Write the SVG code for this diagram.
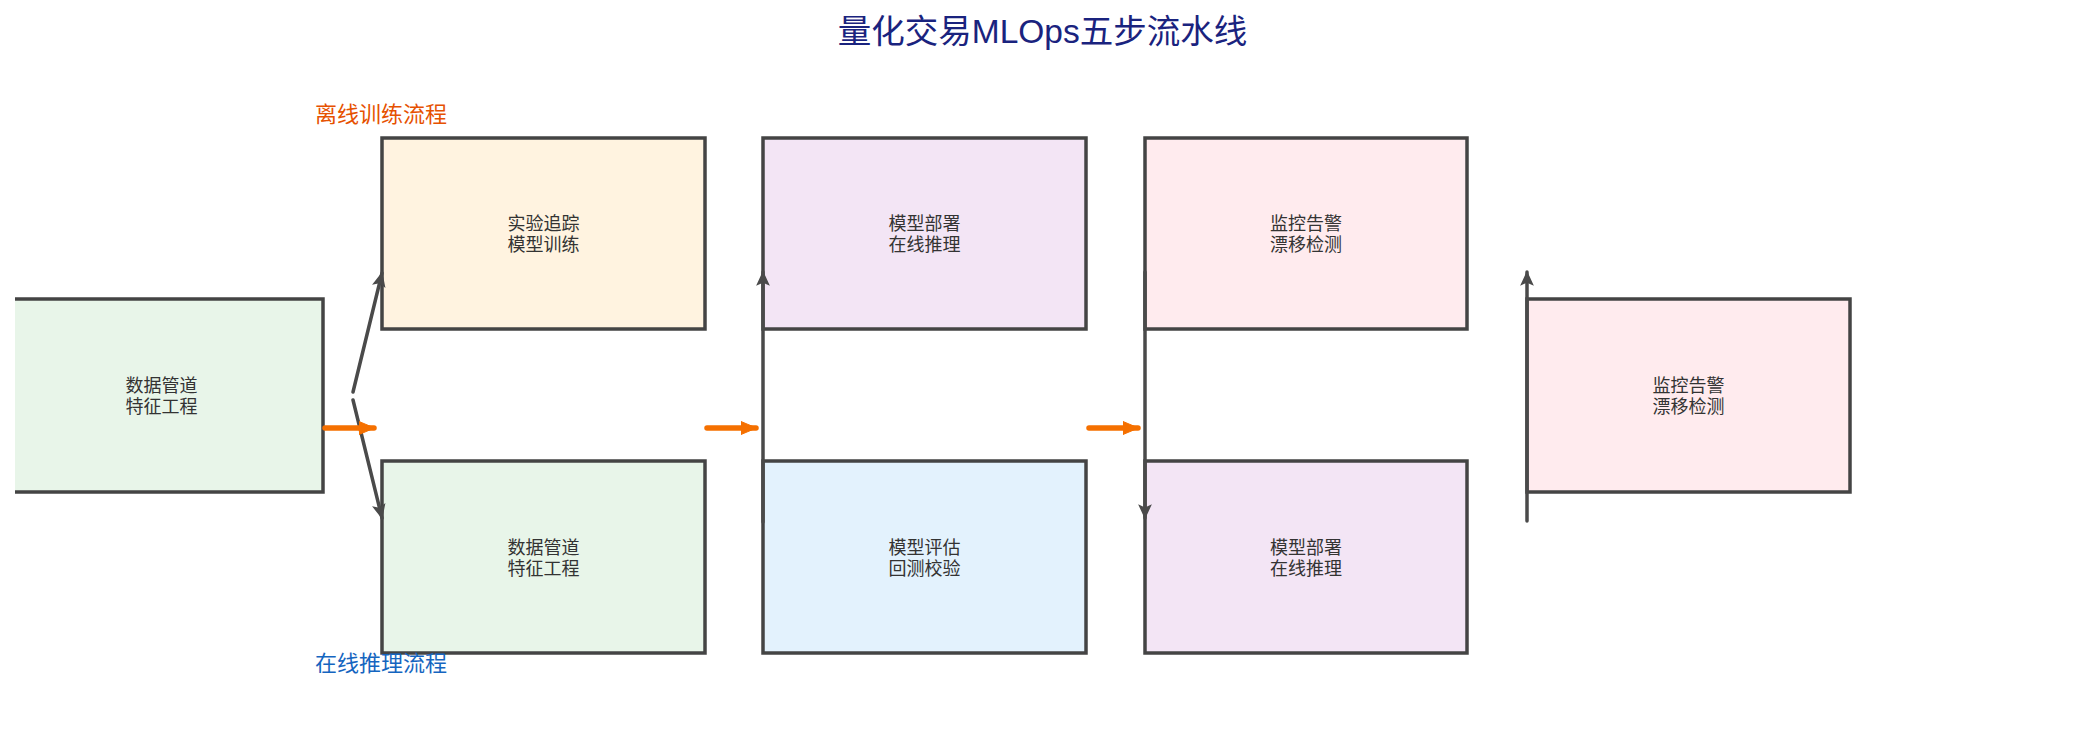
<svg xmlns="http://www.w3.org/2000/svg" width="2085" height="734" viewBox="0 0 2085 734">
  <style>
    .box { stroke: #444444; stroke-width: 3.5; }
    .lbl { font-family: "Noto Sans CJK SC", "Noto Sans", sans-serif; font-size: 18px; fill: #333333; text-anchor: middle; }
    .title { font-family: "Liberation Sans", "Noto Sans CJK SC", sans-serif; font-size: 33.5px; fill: #1A237E; text-anchor: middle; }
    .sec { font-family: "Noto Sans CJK SC", "Noto Sans", sans-serif; font-size: 22px; }
    .gray { stroke: #4A4A4A; stroke-width: 3.5; fill: none; stroke-linecap: round; }
    .orange { stroke: #F57000; stroke-width: 5.5; fill: none; stroke-linecap: round; }
  </style>
  <defs>
    <marker id="ag" markerUnits="userSpaceOnUse" markerWidth="15" markerHeight="15" viewBox="0 0 12 12" refX="11" refY="6" orient="auto">
      <path d="M0,0.5 L12,6 L0,11.5 L2.5,6 Z" fill="#4A4A4A"/>
    </marker>
    <marker id="ao" markerUnits="userSpaceOnUse" markerWidth="16" markerHeight="14" viewBox="0 0 16 14" refX="15" refY="7" orient="auto">
      <path d="M0,0.5 L15.5,7 L0,13.5 Z" fill="#F57000" stroke="#F57000" stroke-width="1" stroke-linejoin="round"/>
    </marker>
  </defs>
  <rect width="2085" height="734" fill="#FFFFFF"/>

  <text class="title" x="1042.5" y="43">量化交易MLOps五步流水线</text>
  <text class="sec" x="315" y="122" fill="#E65100">离线训练流程</text>

  <g id="node-left">
    <rect x="15" y="299" width="308" height="193" fill="#E8F5E9"/>
    <path class="box" d="M15,299 H323 V492 H15" fill="none"/>
    <text class="lbl" x="161.5" y="392">数据管道<tspan x="161.5" dy="21">特征工程</tspan></text>
  </g>
  <g id="node-train">
    <rect class="box" x="382" y="138" width="323" height="191" fill="#FFF3E0"/>
    <text class="lbl" x="543.5" y="230">实验追踪<tspan x="543.5" dy="21">模型训练</tspan></text>
  </g>
  <g id="node-data">
    <rect class="box" x="382" y="461" width="323" height="192" fill="#E8F5E9"/>
    <text class="lbl" x="543.5" y="554">数据管道<tspan x="543.5" dy="21">特征工程</tspan></text>
  </g>
  <g id="node-deploy1">
    <rect class="box" x="763" y="138" width="323" height="191" fill="#F3E5F5"/>
    <text class="lbl" x="924.5" y="230">模型部署<tspan x="924.5" dy="21">在线推理</tspan></text>
  </g>
  <g id="node-eval">
    <rect class="box" x="763" y="461" width="323" height="192" fill="#E3F2FD"/>
    <text class="lbl" x="924.5" y="554">模型评估<tspan x="924.5" dy="21">回测校验</tspan></text>
  </g>
  <g id="node-monitor1">
    <rect class="box" x="1145" y="138" width="322" height="191" fill="#FFEBEE"/>
    <text class="lbl" x="1306" y="230">监控告警<tspan x="1306" dy="21">漂移检测</tspan></text>
  </g>
  <g id="node-deploy2">
    <rect class="box" x="1145" y="461" width="322" height="192" fill="#F3E5F5"/>
    <text class="lbl" x="1306" y="554">模型部署<tspan x="1306" dy="21">在线推理</tspan></text>
  </g>
  <g id="node-monitor2">
    <rect class="box" x="1527" y="299" width="323" height="193" fill="#FFEBEE"/>
    <text class="lbl" x="1688.5" y="392">监控告警<tspan x="1688.5" dy="21">漂移检测</tspan></text>
  </g>

  <text class="sec" x="315" y="671" fill="#1565C0">在线推理流程</text>

  <g id="connectors">
    <line class="gray" x1="353" y1="392" x2="382" y2="273" marker-end="url(#ag)"/>
    <line class="gray" x1="353" y1="400" x2="382" y2="518" marker-end="url(#ag)"/>
    <line class="gray" x1="763" y1="522" x2="763" y2="272" marker-end="url(#ag)"/>
    <line class="gray" x1="1145" y1="272" x2="1145" y2="518" marker-end="url(#ag)"/>
    <line class="gray" x1="1527" y1="521" x2="1527" y2="272" marker-end="url(#ag)"/>
    <line class="orange" x1="325" y1="428" x2="374" y2="428" marker-end="url(#ao)"/>
    <line class="orange" x1="707" y1="428" x2="756" y2="428" marker-end="url(#ao)"/>
    <line class="orange" x1="1089" y1="428" x2="1138" y2="428" marker-end="url(#ao)"/>
  </g>
</svg>
